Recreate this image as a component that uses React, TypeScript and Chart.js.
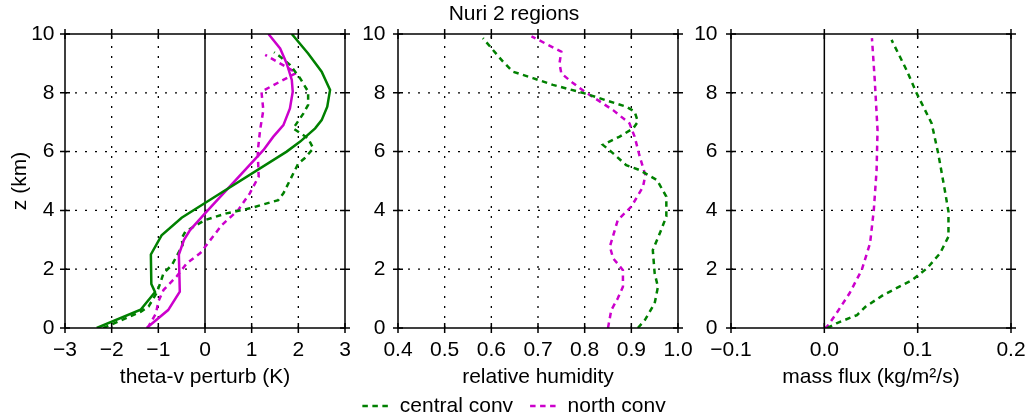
import React, { useEffect, useRef } from 'react';
import { Chart, registerables } from 'chart.js';

Chart.register(...registerables);

const GREEN = '#008000';
const MAGENTA = '#cc00cc';
const FONT = 'Liberation Sans';

// ---- tick values and labels ----
const zTicks = [0, 2, 4, 6, 8, 10];
const zTickLabels = ['0', '2', '4', '6', '8', '10'];
const thetaTicks = [-3, -2, -1, 0, 1, 2, 3];
const thetaTickLabels = ['\u22123', '\u22122', '\u22121', '0', '1', '2', '3'];
const rhTicks = [0.4, 0.5, 0.6, 0.7, 0.8, 0.9, 1.0];
const rhTickLabels = ['0.4', '0.5', '0.6', '0.7', '0.8', '0.9', '1.0'];
const mfTicks = [-0.1, 0, 0.1, 0.2];
const mfTickLabels = ['\u22120.1', '0.0', '0.1', '0.2'];

// ---- panel 1: theta-v perturbation (K) ----
const thetaZCentral = [0, 0.62, 1.22, 1.5, 2.5, 3.15, 3.75, 4.25, 6.0, 6.34, 6.79, 7.07, 7.53, 8.1, 8.72, 9.34, 10];
const thetaCentral = [-2.32, -1.38, -1.07, -1.15, -1.16, -0.93, -0.5, 0.0, 1.75, 2.04, 2.36, 2.5, 2.62, 2.68, 2.5, 2.21, 1.86];
const thetaZNorth = [0, 0.61, 1.24, 2.5, 3.0, 3.33, 3.9, 6.05, 6.5, 6.9, 7.47, 8.04, 8.44, 9.0, 9.51, 10];
const thetaNorth = [-1.25, -0.79, -0.54, -0.56, -0.45, -0.32, 0.0, 1.25, 1.46, 1.68, 1.82, 1.88, 1.86, 1.75, 1.61, 1.36];
const thetaZCentralConv = [0, 0.55, 0.73, 1.18, 1.52, 1.86, 2.14, 2.82, 3.05, 3.28, 3.67, 3.9, 4.07, 4.35, 4.58, 5.6, 5.78, 6.11, 6.45, 6.79, 7.3, 7.59, 8.04, 8.49, 8.95, 9.23, 9.38];
const thetaCentralConv = [-2.18, -1.38, -1.21, -1.04, -0.96, -0.89, -0.71, -0.48, -0.5, -0.42, 0.0, 0.46, 0.96, 1.57, 1.68, 2.0, 2.14, 2.32, 2.21, 1.89, 2.11, 2.21, 2.21, 2.04, 1.82, 1.61, 1.48];
const thetaZNorthConv = [0, 0.5, 0.9, 1.29, 1.75, 2.2, 2.55, 3.5, 4.01, 4.58, 5.15, 6.0, 6.73, 7.41, 8.04, 8.68, 9.29];
const thetaNorthConv = [-1.23, -1.05, -1.0, -0.89, -0.61, -0.39, -0.1, 0.36, 0.71, 0.96, 1.15, 1.13, 1.18, 1.25, 1.21, 1.96, 1.29];

// ---- panel 2: relative humidity ----
const rhZCentralConv = [0, 0.27, 0.84, 1.4, 1.86, 2.65, 3.22, 3.79, 4.47, 5.03, 5.37, 5.54, 5.94, 6.23, 6.51, 6.79, 7.02, 7.36, 7.53, 7.76, 7.98, 8.27, 8.5, 8.72, 9.06, 9.52, 9.86];
const rhCentralConv = [0.914, 0.929, 0.95, 0.957, 0.95, 0.946, 0.961, 0.975, 0.975, 0.955, 0.918, 0.889, 0.861, 0.839, 0.875, 0.904, 0.914, 0.907, 0.889, 0.843, 0.8, 0.732, 0.689, 0.646, 0.625, 0.6, 0.582];
const rhZNorthConv = [0, 0.61, 1.01, 1.4, 1.97, 2.37, 2.77, 3.67, 4.13, 4.8, 5.2, 5.83, 6.51, 6.96, 7.41, 8.04, 8.33, 8.66, 9.0, 9.4, 9.92];
const rhNorthConv = [0.85, 0.857, 0.871, 0.882, 0.882, 0.861, 0.854, 0.871, 0.9, 0.925, 0.93, 0.918, 0.907, 0.896, 0.861, 0.8, 0.775, 0.75, 0.746, 0.75, 0.686];

// ---- panel 3: mass flux (kg/m2/s) ----
const mfZCentralConv = [0, 0.16, 0.44, 0.72, 1.12, 1.63, 2.03, 2.54, 3.11, 3.96, 4.7, 5.94, 6.96, 7.98, 8.78, 9.8];
const mfCentralConv = [0.003, 0.013, 0.035, 0.044, 0.063, 0.094, 0.11, 0.124, 0.133, 0.133, 0.129, 0.122, 0.115, 0.099, 0.088, 0.072];
const mfZNorthConv = [0, 0.05, 0.5, 1.18, 1.97, 2.88, 4.01, 5.37, 6.73, 8.44, 9.86];
const mfNorthConv = [0.0, 0.003, 0.013, 0.027, 0.04, 0.049, 0.053, 0.056, 0.057, 0.054, 0.051];

const DASH = [5.5, 4.5];

function series(label: string, xs: number[], zs: number[], color: string, dashed: boolean) {
  return {
    label,
    data: zs.map((z, i) => ({ x: xs[i], y: z })),
    showLine: true,
    borderColor: color,
    backgroundColor: color,
    borderWidth: 2.5,
    borderDash: dashed ? DASH : [],
    pointRadius: 0,
    pointHoverRadius: 0,
    tension: 0,
    fill: false,
  };
}

const framePlugin = {
  id: 'frame',
  beforeDatasetsDraw(chart: any, _args: any, opts: any) {
    const { ctx, chartArea } = chart;
    const { left, right, top, bottom } = chartArea;
    const xs = chart.scales.x;
    const ys = chart.scales.y;
    const solid: number[] = (opts && opts.solidX) || [];
    ctx.save();
    ctx.strokeStyle = '#000';
    ctx.lineWidth = 1.3;
    ctx.setLineDash([2, 8]);
    ctx.beginPath();
    xs.ticks.forEach((t: any) => {
      if (t.value <= xs.min || t.value >= xs.max || solid.includes(t.value)) return;
      const px = xs.getPixelForValue(t.value);
      ctx.moveTo(px, bottom);
      ctx.lineTo(px, top);
    });
    ys.ticks.forEach((t: any) => {
      if (t.value <= ys.min || t.value >= ys.max) return;
      const py = ys.getPixelForValue(t.value);
      ctx.moveTo(left, py);
      ctx.lineTo(right, py);
    });
    ctx.stroke();
    ctx.setLineDash([]);
    ctx.lineWidth = 1.5;
    ctx.beginPath();
    solid.forEach((v) => {
      const px = xs.getPixelForValue(v);
      ctx.moveTo(px, bottom);
      ctx.lineTo(px, top);
    });
    ctx.stroke();
    ctx.restore();
  },
  afterDatasetsDraw(chart: any) {
    const { ctx, chartArea } = chart;
    const { left, right, top, bottom } = chartArea;
    const xs = chart.scales.x;
    const ys = chart.scales.y;
    const L = 5;
    ctx.save();
    ctx.strokeStyle = '#000';
    ctx.setLineDash([]);
    ctx.lineWidth = 1.5;
    ctx.strokeRect(left, top, right - left, bottom - top);
    ctx.beginPath();
    xs.ticks.forEach((t: any) => {
      const px = xs.getPixelForValue(t.value);
      ctx.moveTo(px, bottom - L);
      ctx.lineTo(px, bottom + L);
      ctx.moveTo(px, top - L);
      ctx.lineTo(px, top + L);
    });
    ys.ticks.forEach((t: any) => {
      const py = ys.getPixelForValue(t.value);
      ctx.moveTo(left - L, py);
      ctx.lineTo(left + L, py);
      ctx.moveTo(right - L, py);
      ctx.lineTo(right + L, py);
    });
    ctx.stroke();
    ctx.restore();
  },
};

interface Panel {
  datasets: any[];
  xMin: number;
  xMax: number;
  xTicks: number[];
  xLabels: string[];
  xTitle: string;
  padding: { left: number; right: number; top: number; bottom: number };
  yWidth: number;
  yPad: number;
  yTitle?: string;
  rightSpacer?: number;
  solidX: number[];
  title?: string;
  legend?: boolean;
}

const X_AXIS_H = 50.5;

function makeConfig(p: Panel): any {
  const scales: any = {
    x: {
      type: 'linear',
      min: p.xMin,
      max: p.xMax,
      afterBuildTicks: (s: any) => {
        s.ticks = p.xTicks.map((v) => ({ value: v }));
      },
      afterFit: (s: any) => {
        s.height = X_AXIS_H;
        s.paddingLeft = 0;
        s.paddingRight = 0;
      },
      grid: { display: false, drawTicks: false },
      border: { display: false },
      ticks: {
        padding: 10,
        autoSkip: false,
        maxRotation: 0,
        color: '#000',
        font: { size: 21, family: FONT },
        callback: (_v: any, i: number) => p.xLabels[i],
      },
      title: {
        display: true,
        text: p.xTitle,
        color: '#000',
        font: { size: 21, family: FONT },
        padding: { top: 0, bottom: -11 },
      },
    },
    y: {
      type: 'linear',
      min: 0,
      max: 10,
      afterBuildTicks: (s: any) => {
        s.ticks = zTicks.map((v) => ({ value: v }));
      },
      afterFit: (s: any) => {
        s.width = p.yWidth;
        s.paddingTop = 0;
        s.paddingBottom = 0;
      },
      grid: { display: false, drawTicks: false },
      border: { display: false },
      ticks: {
        padding: p.yPad,
        autoSkip: false,
        color: '#000',
        font: { size: 21, family: FONT },
        callback: (_v: any, i: number) => zTickLabels[i],
      },
      title: p.yTitle
        ? {
            display: true,
            text: p.yTitle,
            color: '#000',
            font: { size: 21, family: FONT },
            padding: { top: 7.4, bottom: 0 },
          }
        : { display: false },
    },
  };
  if (p.rightSpacer) {
    const w = p.rightSpacer;
    scales.ySpacer = {
      type: 'linear',
      position: 'right',
      display: true,
      min: 0,
      max: 10,
      afterFit: (s: any) => {
        s.width = w;
        s.paddingTop = 0;
        s.paddingBottom = 0;
      },
      grid: { display: false, drawTicks: false },
      border: { display: false },
      ticks: { display: false },
      title: { display: false },
    };
  }
  return {
    type: 'scatter',
    data: { datasets: p.datasets },
    options: {
      responsive: false,
      animation: false,
      events: [],
      layout: { padding: p.padding },
      scales,
      plugins: {
        tooltip: { enabled: false },
        frame: { solidX: p.solidX },
        title: p.title
          ? {
              display: true,
              text: p.title,
              color: '#000',
              font: { size: 21, family: FONT, weight: 'normal' },
              padding: { top: 0, bottom: 6.8 },
            }
          : { display: false },
        legend: p.legend
          ? {
              display: true,
              position: 'bottom',
              maxHeight: 38.5,
              labels: {
                usePointStyle: true,
                pointStyle: 'line',
                pointStyleWidth: 27,
                padding: 17,
                color: '#000',
                font: { size: 21, family: FONT },
                generateLabels: (chart: any) =>
                  chart.data.datasets.map((ds: any, i: number) => ({
                    text: ds.label,
                    strokeStyle: ds.borderColor,
                    fillStyle: ds.borderColor,
                    lineWidth: ds.borderWidth,
                    lineDash: ds.borderDash,
                    lineCap: 'butt',
                    pointStyle: 'line',
                    hidden: false,
                    datasetIndex: i,
                    fontColor: '#000',
                  })),
              },
            }
          : { display: false },
      },
    },
    plugins: [framePlugin],
  };
}

export default function App() {
  const r1 = useRef<HTMLCanvasElement>(null);
  const r2 = useRef<HTMLCanvasElement>(null);
  const r3 = useRef<HTMLCanvasElement>(null);

  useEffect(() => {
    const p1: Panel = {
      datasets: [
        series('central', thetaCentral, thetaZCentral, GREEN, false),
        series('north', thetaNorth, thetaZNorth, MAGENTA, false),
        series('central conv', thetaCentralConv, thetaZCentralConv, GREEN, true),
        series('north conv', thetaNorthConv, thetaZNorthConv, MAGENTA, true),
      ],
      xMin: -3,
      xMax: 3,
      xTicks: thetaTicks,
      xLabels: thetaTickLabels,
      xTitle: 'theta-v perturb (K)',
      padding: { left: 0, right: 682, top: 34, bottom: 417 - 328 - X_AXIS_H },
      yWidth: 65,
      yPad: 10.5,
      yTitle: 'z (km)',
      solidX: [0],
    };
    const p2: Panel = {
      datasets: [
        series('central conv', rhCentralConv, rhZCentralConv, GREEN, true),
        series('north conv', rhNorthConv, rhZNorthConv, MAGENTA, true),
      ],
      xMin: 0.4,
      xMax: 1.0,
      xTicks: rhTicks,
      xLabels: rhTickLabels,
      xTitle: 'relative humidity',
      padding: { left: 320, right: 319, top: 2, bottom: 0 },
      yWidth: 78,
      yPad: 12.5,
      rightSpacer: 30,
      solidX: [],
      title: 'Nuri 2 regions',
      legend: true,
    };
    const p3: Panel = {
      datasets: [
        series('central conv', mfCentralConv, mfZCentralConv, GREEN, true),
        series('north conv', mfNorthConv, mfZNorthConv, MAGENTA, true),
      ],
      xMin: -0.1,
      xMax: 0.2,
      xTicks: mfTicks,
      xLabels: mfTickLabels,
      xTitle: 'mass flux (kg/m\u00b2/s)',
      padding: { left: 680, right: 16, top: 34, bottom: 417 - 328 - X_AXIS_H },
      yWidth: 51,
      yPad: 13.5,
      solidX: [0],
    };
    const charts = [
      new Chart(r1.current as HTMLCanvasElement, makeConfig(p1)),
      new Chart(r2.current as HTMLCanvasElement, makeConfig(p2)),
      new Chart(r3.current as HTMLCanvasElement, makeConfig(p3)),
    ];
    return () => charts.forEach((c) => c.destroy());
  }, []);

  const cs: React.CSSProperties = { position: 'absolute', left: 0, top: 0 };
  return (
    <div style={{ position: 'absolute', left: 0, top: 0, width: 1027, height: 417, background: '#fff' }}>
      <canvas ref={r1} width={1027} height={417} style={cs} />
      <canvas ref={r2} width={1027} height={417} style={cs} />
      <canvas ref={r3} width={1027} height={417} style={cs} />
    </div>
  );
}
